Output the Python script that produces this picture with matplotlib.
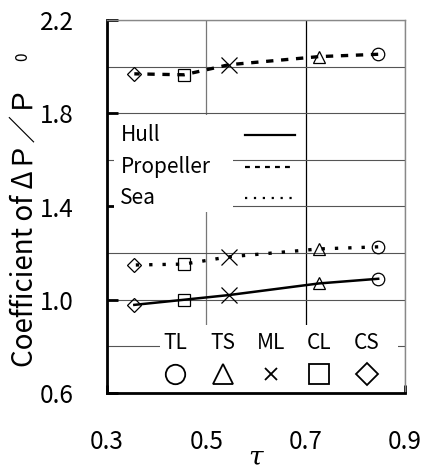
import numpy as np
import matplotlib
matplotlib.use("Agg")
import matplotlib.pyplot as plt
from matplotlib.patches import Rectangle

plt.rcParams['font.family'] = ['Noto Sans CJK JP', 'DejaVu Sans']
plt.rcParams['mathtext.fontset'] = 'dejavuserif'

# ship types, tau and coefficient values
ships = ['TL', 'TS', 'ML', 'CL', 'CS']
markers = ['o', '^', 'x', 's', 'D']
tau = [0.846, 0.727, 0.545, 0.455, 0.355]
hull = [1.09, 1.07, 1.02, 1.00, 0.978]
propeller = [2.053, 2.043, 2.008, 1.965, 1.969]
sea = [1.227, 1.218, 1.184, 1.153, 1.149]

series = ['Hull', 'Propeller', 'Sea']
values = [hull, propeller, sea]
styles = [dict(ls='-', lw=1.8),
          dict(ls=(0, (2.2, 2.3)), lw=2.4),
          dict(ls=(0, (1.0, 3.0)), lw=2.4)]

fig = plt.figure(figsize=(4.21, 4.73), dpi=100)
ax = fig.add_axes([107/421, 80/473, 298/421, 373/473])

for vals, st in zip(values, styles):
    ax.plot(tau, vals, color='k', zorder=3, **st)
    for t, v, m in zip(tau, vals, markers):
        ms = 11 if m == 'x' else 9
        if m == 'D':
            ms = 7
        ax.plot(t, v, marker=m, ms=ms, mfc='none', mec='k', mew=0.9,
                ls='none', zorder=4)

ax.set_xlim(0.3, 0.9)
ax.set_ylim(0.6, 2.2)
ax.set_xticks([0.3, 0.5, 0.7, 0.9])
ax.set_yticks([0.6, 1.0, 1.4, 1.8, 2.2])
ax.set_yticks([0.8, 1.2, 1.6, 2.0], minor=True)
ax.set_xticklabels(['0.3', '0.5', '0.7', '0.9'])
ax.set_yticklabels(['0.6', '1.0', '1.4', '1.8', '2.2'])
ax.tick_params(axis='x', direction='in', length=6, width=2, pad=26,
               labelsize=17.5, top=False)
ax.tick_params(axis='y', which='major', direction='in', length=8, width=2,
               pad=24, labelsize=17.5, right=False)
ax.tick_params(axis='y', which='minor', length=0)

ax.grid(axis='y', which='both', color='#555555', lw=0.8, zorder=0)
ax.grid(axis='x', which='major', color='#777777', lw=0.9, zorder=0)
ax.get_xgridlines()[2].set_color('k')
for s in ['top', 'right']:
    ax.spines[s].set_color('#888888')
    ax.spines[s].set_linewidth(1.0)
for s in ['left', 'bottom']:
    ax.spines[s].set_linewidth(2.0)
ax.set_axisbelow(True)

# legend for component lines (text left, key right)
ax.add_patch(Rectangle((0.023, 0.485), 0.40, 0.26, transform=ax.transAxes,
                       facecolor='white', edgecolor='none', zorder=1))
for i, (name, st) in enumerate(zip(series, styles)):
    yy = 0.692 - i * 0.085
    ax.text(0.045, yy, name, transform=ax.transAxes, fontsize=15,
            va='center', ha='left', zorder=5)
    ax.plot([0.463, 0.631], [yy, yy], transform=ax.transAxes, color='k',
            zorder=5, **{**st, 'lw': 1.6})

# legend for ship types (label above symbol)
ax.add_patch(Rectangle((0.178, 0.0), 0.80, 0.182, transform=ax.transAxes,
                       facecolor='white', edgecolor='none', zorder=1))
for i, (name, m) in enumerate(zip(ships, markers)):
    xx = 0.228 + i * 0.161
    ax.text(xx, 0.134, name, transform=ax.transAxes, fontsize=15,
            va='center', ha='center', zorder=5)
    ms = 9 if m == 'x' else 14
    if m == 'D':
        ms = 11
    ax.plot(xx, 0.051, marker=m, ms=ms, mfc='none', mec='k', mew=1.3,
            transform=ax.transAxes, ls='none', zorder=5)

ax.set_xlabel(r'$\tau$', fontsize=19, labelpad=-8)
fig.text(0.058, 0.52, 'Coefficient of ΔＰ／Ｐ', rotation=90, fontsize=20,
         ha='center', va='center')
fig.text(0.055, 0.88, '0', rotation=90, fontsize=11, ha='center',
         va='center')

fig.savefig('out.png', dpi=100)
